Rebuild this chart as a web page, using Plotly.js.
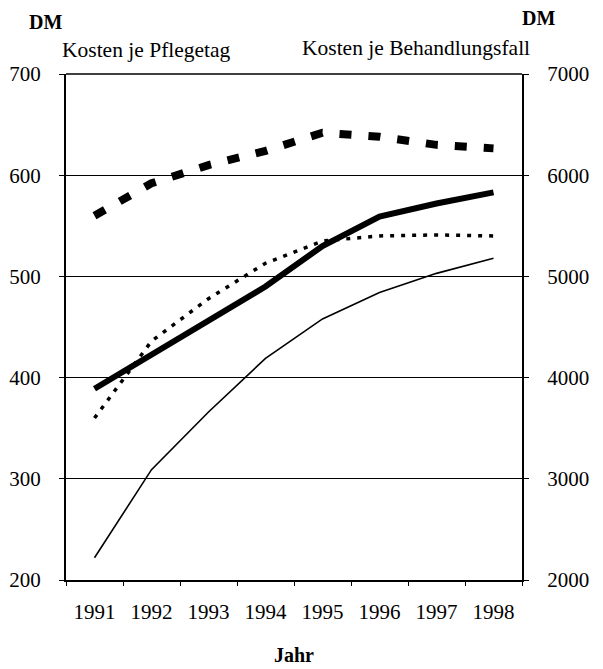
<!DOCTYPE html>
<html>
<head>
<meta charset="utf-8">
<script src="https://cdn.plot.ly/plotly-3.0.1.min.js"></script>
<style>html,body{margin:0;padding:0;background:#fff;}#chart{width:603px;height:669px;}</style>
</head>
<body>
<div id="chart"></div>
<script>
// Categories
const years = ['1991','1992','1993','1994','1995','1996','1997','1998'];
// Kosten je Pflegetag (DM, left axis)
const pflegetagThick = [389, 423, 456, 490, 530, 559, 572, 583];
const pflegetagThin  = [222, 309, 366, 419, 458, 484, 503, 518];
// Kosten je Behandlungsfall (DM, right axis)
const fallThickDashed = [5600, 5920, 6100, 6240, 6420, 6380, 6300, 6265];
const fallThinDotted  = [3600, 4360, 4780, 5130, 5350, 5400, 5410, 5400];
// Tick labels
const leftTicks = [200, 300, 400, 500, 600, 700];
const rightTicks = [2000, 3000, 4000, 5000, 6000, 7000];

const FONT = 'Liberation Serif, Times New Roman, serif';

const traces = [
  {x: years, y: fallThickDashed, yaxis: 'y2', type: 'scatter', mode: 'lines',
   line: {color: '#000', width: 8, dash: '12px,17px'}, hoverinfo: 'skip'},
  {x: years, y: fallThinDotted, yaxis: 'y2', type: 'scatter', mode: 'lines',
   line: {color: '#000', width: 3.5, dash: '4px,7px'}, hoverinfo: 'skip'},
  {x: years, y: pflegetagThick, yaxis: 'y', type: 'scatter', mode: 'lines',
   line: {color: '#000', width: 6}, hoverinfo: 'skip'},
  {x: years, y: pflegetagThin, yaxis: 'y', type: 'scatter', mode: 'lines',
   line: {color: '#000', width: 1.6}, hoverinfo: 'skip'}
];

const layout = {
  width: 603, height: 669,
  margin: {l: 66, r: 81, t: 74, b: 89, pad: 0},
  paper_bgcolor: '#fff', plot_bgcolor: '#fff',
  showlegend: false,
  font: {family: FONT, color: '#000', size: 21},
  xaxis: {
    type: 'category', range: [-0.5, 7.5],
    showline: true, linecolor: '#000', linewidth: 2, mirror: false,
    ticks: 'outside', tickson: 'boundaries', ticklen: 4, tickcolor: '#000', tickwidth: 1,
    ticklabelstandoff: 12,
    showgrid: false, zeroline: false,
    tickfont: {family: FONT, size: 21, color: '#000'}
  },
  yaxis: {
    range: [200, 700], tickvals: leftTicks, ticktext: leftTicks.map(String),
    showline: true, linecolor: '#000', linewidth: 2,
    ticks: 'outside', ticklen: 5, tickcolor: '#000',
    ticklabelstandoff: 14,
    showgrid: true, gridcolor: '#000', gridwidth: 1, zeroline: false,
    tickfont: {family: FONT, size: 21, color: '#000'}
  },
  yaxis2: {
    range: [2000, 7000], tickvals: rightTicks, ticktext: rightTicks.map(String),
    overlaying: 'y', side: 'right',
    showline: true, linecolor: '#000', linewidth: 2,
    ticks: 'outside', ticklen: 5, tickcolor: '#000',
    ticklabelstandoff: 14,
    showgrid: false, zeroline: false,
    tickfont: {family: FONT, size: 21, color: '#000'}
  },
  annotations: [
    {text: '<b>DM</b>', xref: 'paper', yref: 'paper', x: -0.044, y: 1.103,
     xanchor: 'center', yanchor: 'middle', showarrow: false, font: {family: FONT, size: 20}},
    {text: 'Kosten je Pflegetag', xref: 'paper', yref: 'paper', x: -0.013, y: 1.048,
     xanchor: 'left', yanchor: 'middle', showarrow: false, font: {family: FONT, size: 21.5}},
    {text: 'Kosten je Behandlungsfall', xref: 'paper', yref: 'paper', x: 1.022, y: 1.052,
     xanchor: 'right', yanchor: 'middle', showarrow: false, font: {family: FONT, size: 21.5}},
    {text: '<b>DM</b>', xref: 'paper', yref: 'paper', x: 1.037, y: 1.111,
     xanchor: 'center', yanchor: 'middle', showarrow: false, font: {family: FONT, size: 20}},
    {text: '<b>Jahr</b>', xref: 'paper', yref: 'paper', x: 0.5, y: -0.148,
     xanchor: 'center', yanchor: 'middle', showarrow: false, font: {family: FONT, size: 20}}
  ],
  shapes: [
    {type: 'line', xref: 'paper', yref: 'paper', x0: 0, x1: 1, y0: 1, y1: 1,
     line: {color: '#000', width: 1.5}}
  ]
};

Plotly.newPlot('chart', traces, layout, {staticPlot: true, displayModeBar: false});
</script>
</body>
</html>
